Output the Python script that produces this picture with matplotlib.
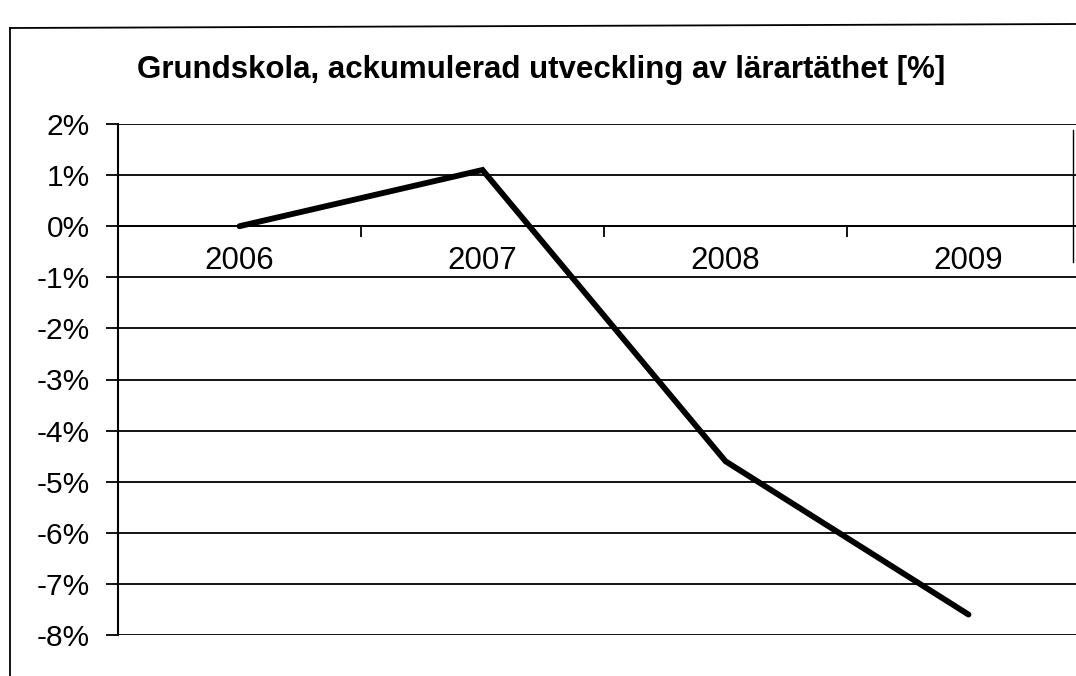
import matplotlib
matplotlib.use("Agg")
import matplotlib.pyplot as plt
from matplotlib.lines import Line2D
from matplotlib.ticker import FuncFormatter, FixedLocator

plt.rcParams['font.family'] = ['Liberation Sans', 'DejaVu Sans']

# data
years = ['2006', '2007', '2008', '2009']
values = [0.0, 1.1, -4.6, -7.6]   # accumulated change, %
y_ticks = list(range(-8, 3))

fig = plt.figure(figsize=(10.76, 6.76), dpi=100)
fig.patch.set_facecolor('white')

# plot area (right edge runs off the page like in the scan)
ax = fig.add_axes([118 / 1076, 1 - 635 / 676, 4 * 243 / 1076, (635 - 124) / 676])

x = [i + 0.5 for i in range(len(years))]
ax.plot(x, values, color='black', lw=4.2, solid_capstyle='round', solid_joinstyle='miter', zorder=3)

ax.set_xlim(0, len(years))
ax.set_ylim(-8, 2)

# horizontal grid
ax.set_yticks(y_ticks)
ax.yaxis.set_major_formatter(FuncFormatter(lambda v, p: f"{int(v)}%"))
ax.grid(axis='y', color='black', lw=1.3)
ax.set_axisbelow(True)
ax.tick_params(axis='y', length=9, width=1.3, pad=11, labelsize=21.5, direction='out')

# category axis sits on the 0 line
ax.spines['bottom'].set_position(('data', 0))
ax.spines['bottom'].set_linewidth(1.3)
ax.spines['top'].set_visible(False)
ax.spines['right'].set_visible(False)
ax.spines['left'].set_linewidth(1.5)
ax.xaxis.set_major_locator(FixedLocator(range(1, len(years))))
ax.xaxis.set_major_formatter(FuncFormatter(lambda v, p: ''))
ax.xaxis.set_minor_locator(FixedLocator(x))
ax.set_xticklabels(years, minor=True)
ax.tick_params(axis='x', which='major', length=8, width=1.3, direction='out')
ax.tick_params(axis='x', which='minor', length=0, pad=14, labelsize=22.5)

fig.text(541 / 1076, 1 - 70 / 676, 'Grundskola, ackumulerad utveckling av lärartäthet [%]',
         ha='center', va='center', fontsize=22.5, fontweight='bold')

# outer chart frame from the scan
fig.add_artist(Line2D([10 / 1076, 10 / 1076], [0, 1 - 28 / 676], color='black', lw=1.3))
fig.add_artist(Line2D([10 / 1076, 1], [1 - 28 / 676, 1 - 24 / 676], color='black', lw=1.3))
fig.add_artist(Line2D([1073 / 1076, 1073 / 1076], [1 - 130 / 676, 1 - 262 / 676], color='black', lw=1.0))

fig.savefig('out.png', dpi=100, facecolor='white')
